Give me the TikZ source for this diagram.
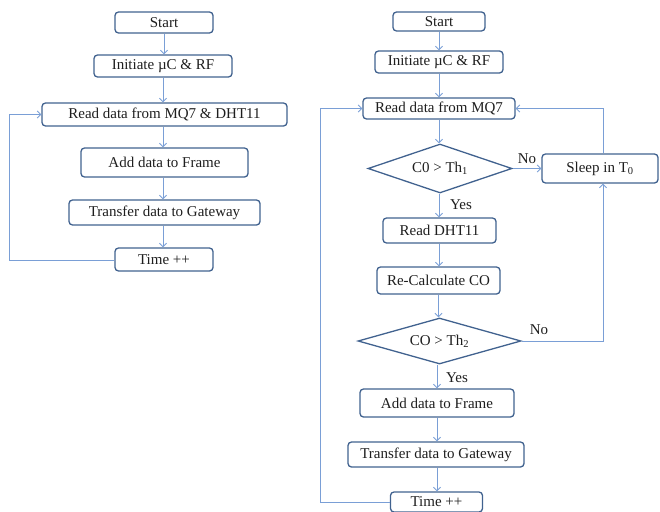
\documentclass[tikz,border=0pt]{standalone}
\usepackage{fontspec}
\setmainfont{Liberation Serif}
\usetikzlibrary{shapes.geometric,arrows.meta}
\definecolor{boxc}{HTML}{41628F}
\definecolor{linec}{HTML}{7A9FD6}
\definecolor{txtc}{HTML}{1E1E1E}
\begin{document}
\begin{tikzpicture}[x=1pt,y=-1pt,
  fb/.style={draw=boxc,line width=1.3pt,rounded corners=3.5pt,inner sep=0pt,
    font=\fontsize{15}{17}\selectfont,text=txtc,align=center},
  dm/.style={draw=boxc,line width=1.3pt,diamond,aspect=3,inner sep=0pt,
    font=\fontsize{15}{17}\selectfont,text=txtc},
  cn/.style={draw=linec,line width=0.9pt,-{Straight Barb[length=3.5pt,width=7pt]}},
  lb/.style={font=\fontsize{15}{17}\selectfont,text=txtc,inner sep=0pt}]
\useasboundingbox (0,0) rectangle (660,511);
% left flowchart
\node[fb,minimum width=98,minimum height=21] (s1) at (164,22.5) {Start};
\node[fb,minimum width=138,minimum height=22] (i1) at (163,66) {Initiate µC \& RF};
\node[fb,minimum width=245,minimum height=23] (r1) at (164.5,114.5) {Read data from MQ7 \& DHT11};
\node[fb,minimum width=167,minimum height=29] (a1) at (164.5,162.5) {Add data to Frame};
\node[fb,minimum width=191,minimum height=25] (t1) at (164.5,212.5) {Transfer data to Gateway};
\node[fb,minimum width=98,minimum height=23] (m1) at (164,259.5) {Time ++};
\draw[cn] (s1.south) -- (s1.south |- i1.north);
\draw[cn] (i1.south) -- (i1.south |- r1.north);
\draw[cn] (r1.south -| i1.south) -- (i1.south |- a1.north);
\draw[cn] (a1.south -| i1.south) -- (i1.south |- t1.north);
\draw[cn] (t1.south -| i1.south) -- (i1.south |- m1.north);
\coordinate (l1a) at (9.5,260);
\draw[cn] (m1.west |- l1a) -- (l1a) |- (r1.west);
% right flowchart
\node[fb,minimum width=92,minimum height=19] (s2) at (439,21.5) {Start};
\node[fb,minimum width=128,minimum height=22] (i2) at (439,62) {Initiate µC \& RF};
\node[fb,minimum width=152,minimum height=21] (r2) at (439,108.5) {Read data from MQ7};
\node[dm,minimum width=144,minimum height=49] (d1) at (440,168.5) {C0 > Th\textsubscript{1}};
\node[fb,minimum width=116,minimum height=29] (sl) at (600,168.5) {Sleep in T\textsubscript{0}};
\node[fb,minimum width=113,minimum height=25] (h2) at (439.5,230.5) {Read DHT11};
\node[fb,minimum width=123,minimum height=27] (c2) at (438.5,280.5) {Re-Calculate CO};
\node[dm,minimum width=163,minimum height=46] (d2) at (439.5,341) {CO > Th\textsubscript{2}};
\node[fb,minimum width=154,minimum height=28] (a2) at (437,403) {Add data to Frame};
\node[fb,minimum width=176,minimum height=25] (t2) at (436,454.5) {Transfer data to Gateway};
\node[fb,minimum width=92,minimum height=20] (m2) at (436.5,502) {Time ++};
\draw[cn] (s2.south) -- (s2.south |- i2.north);
\draw[cn] (i2.south) -- (i2.south |- r2.north);
\draw[cn] (r2.south) -- (r2.south |- d1.north);
\draw[cn] (d1.south -| r2.south) -- (r2.south |- h2.north);
\draw[cn] (h2.south -| r2.south) -- (r2.south |- c2.north);
\draw[cn] (c2.south) -- (c2.south |- d2.north);
\draw[cn] (d2.south -| a2.north) -- (a2.north);
\draw[cn] (a2.south) -- (a2.south |- t2.north);
\draw[cn] (t2.south -| a2.south) -- (a2.south |- m2.north);
\draw[cn] (d1.east) -- (sl.west);
\coordinate (slx) at (603,168.5);
\draw[cn] (slx |- sl.north) -- (slx |- r2.east) -- (r2.east);
\draw[cn] (d2.east) -- (slx |- d2.east) -- (slx |- sl.south);
\coordinate (l2a) at (320,502);
\draw[cn] (m2.west) -- (l2a) |- (r2.west);
\node[lb] (no1) at (527,159) {No};
\node[lb] (ye1) at (461,205) {Yes};
\node[lb] (no2) at (539,330) {No};
\node[lb] (ye2) at (457,378) {Yes};
\end{tikzpicture}
\end{document}
